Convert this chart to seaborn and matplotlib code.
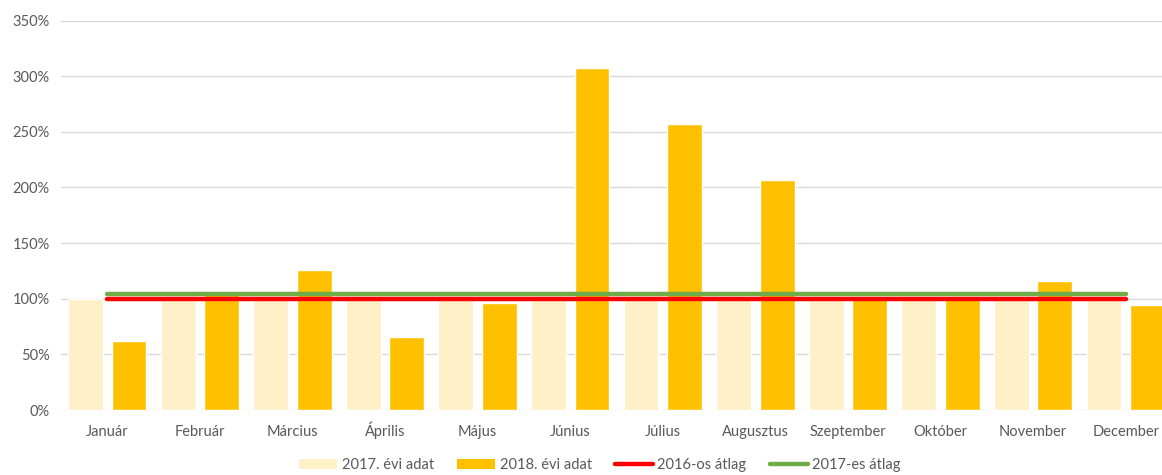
import numpy as np
import pandas as pd
import matplotlib
matplotlib.use("Agg")
import matplotlib.pyplot as plt
import seaborn as sns
from matplotlib.ticker import PercentFormatter
from matplotlib.patches import Patch
from matplotlib.lines import Line2D

months = ["Január", "Február", "Március", "Április", "Május", "Június",
          "Július", "Augusztus", "Szeptember", "Október", "November", "December"]
data_2017 = [1.00, 1.00, 1.00, 1.00, 1.00, 1.00, 1.00, 1.00, 1.00, 1.00, 1.00, 1.00]
data_2018 = [0.62, 1.07, 1.26, 0.66, 0.96, 3.07, 2.57, 2.07, 1.01, 1.01, 1.16, 0.94]
avg_2016 = 1.00
avg_2017 = 1.045
series_names = ["2017. évi adat", "2018. évi adat"]
line_names = ["2016-os átlag", "2017-es átlag"]
yticks = [0, 0.5, 1.0, 1.5, 2.0, 2.5, 3.0, 3.5]

c_light = "#FFF0C8"
c_dark = "#FFC000"
c_red = "#FF0000"
c_green = "#70AD47"
text_col = "#595959"
grid_col = "#D9D9D9"

sns.set_theme(style="white")
plt.rcParams["font.family"] = ["Lato", "DejaVu Sans"]

df = pd.DataFrame({
    "month": months * 2,
    "value": data_2017 + data_2018,
    "series": [series_names[0]] * len(months) + [series_names[1]] * len(months),
})

fig = plt.figure(figsize=(11.62, 4.75), dpi=100)
# plot area extends a bit past the right edge (clipped as in the reference)
ax = fig.add_axes([61 / 1162, (475 - 410) / 475, (1172 - 61) / 1162, (410 - 20.5) / 475])

sns.barplot(data=df, x="month", y="value", hue="series", order=months,
            hue_order=series_names, palette=[c_light, c_dark],
            width=0.94, gap=0.2, saturation=1, ax=ax, legend=False, zorder=2)

xpos = np.arange(len(months))
sns.lineplot(x=xpos, y=[avg_2016] * len(months), color=c_red, linewidth=3.2,
             ax=ax, zorder=4)
sns.lineplot(x=xpos, y=[avg_2017] * len(months), color=c_green, linewidth=3.2,
             ax=ax, zorder=3)

ax.set_xlim(-0.5, len(months) - 0.5)
ax.set_ylim(0, 3.5)
ax.set_yticks(yticks)
ax.yaxis.set_major_formatter(PercentFormatter(xmax=1, decimals=0))
ax.grid(axis="y", color=grid_col, linewidth=1, zorder=0)
ax.set_axisbelow(True)
for s in ax.spines.values():
    s.set_visible(False)
ax.set_xlabel("")
ax.set_ylabel("")
ax.tick_params(axis="both", length=0, colors=text_col, labelsize=10.5)
ax.tick_params(axis="x", pad=19)
ax.tick_params(axis="y", pad=8)
for lbl in ax.get_xticklabels():
    lbl.set_verticalalignment("baseline")

handles = [Patch(facecolor=c_light, edgecolor="none"),
           Patch(facecolor=c_dark, edgecolor="none"),
           Line2D([0], [0], color=c_red, linewidth=3.2),
           Line2D([0], [0], color=c_green, linewidth=3.2)]
labels = series_names + line_names
leg = fig.legend(handles, labels, loc="center", bbox_to_anchor=(600 / 1162, 1 - 465 / 475),
                 ncol=4, frameon=False, fontsize=10.5, handlelength=2.6,
                 handleheight=0.7, handletextpad=0.3, columnspacing=1.6)
for t in leg.get_texts():
    t.set_color(text_col)

fig.savefig("out.png", dpi=100)
